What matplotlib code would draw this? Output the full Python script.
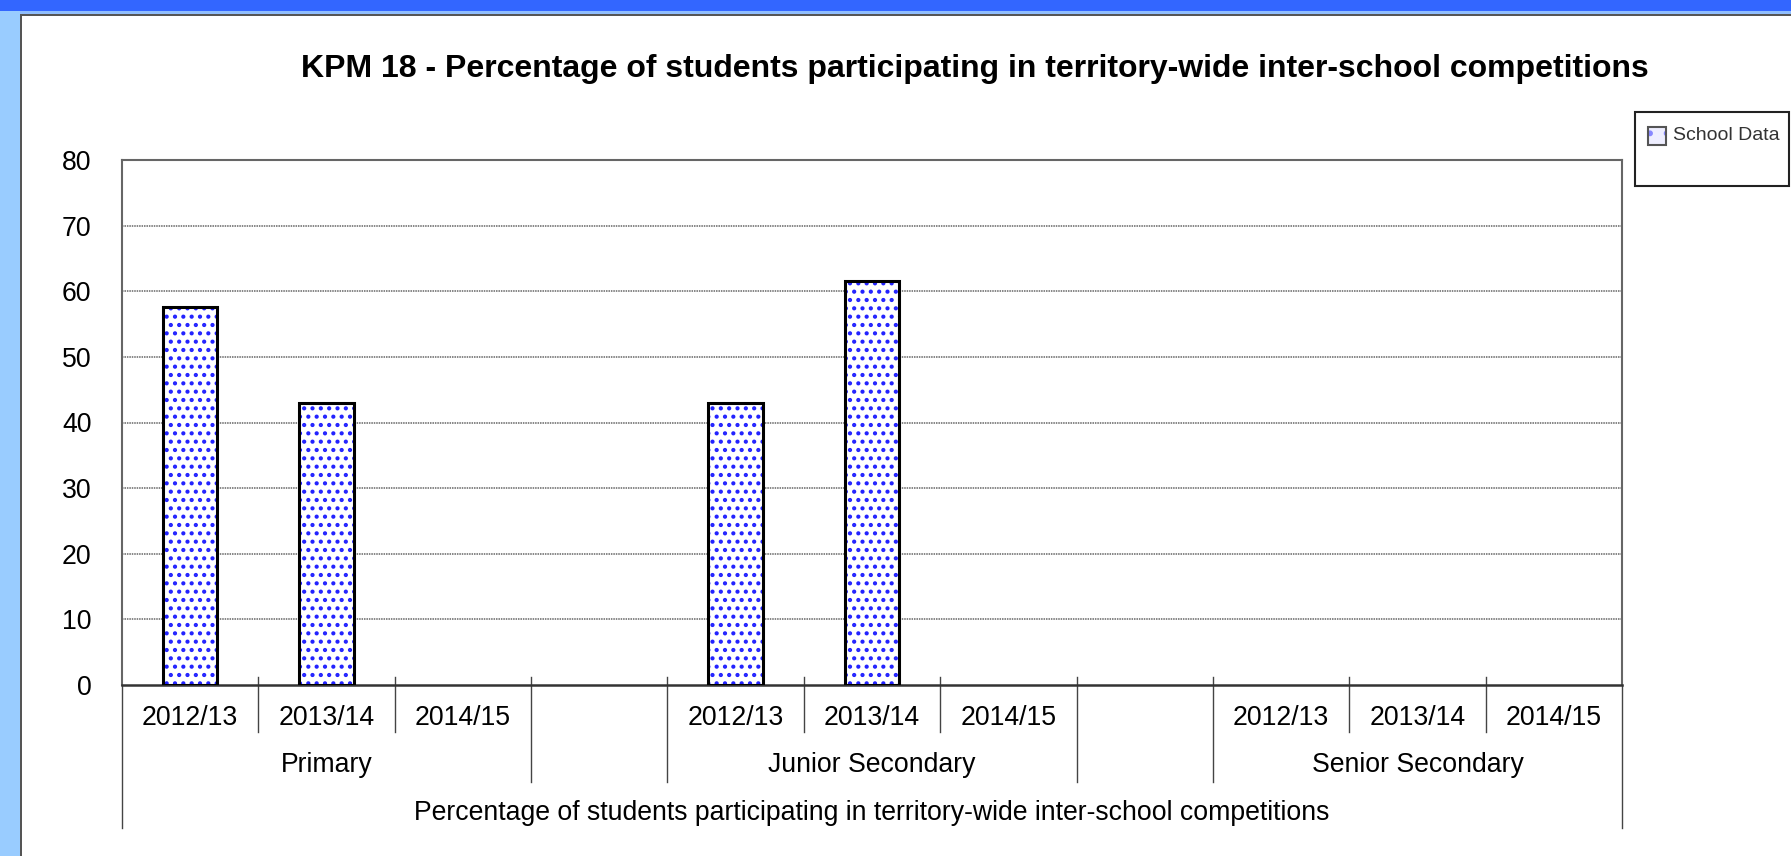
import numpy as np
import matplotlib
matplotlib.use("Agg")
import matplotlib.pyplot as plt
from matplotlib.patches import Rectangle

plt.rcParams['font.family'] = ['Liberation Sans', 'DejaVu Sans']
plt.rcParams['hatch.linewidth'] = 1.8

# ---------------- data ----------------
groups = ["Primary", "", "Junior Secondary", "", "Senior Secondary"]
years = ["2012/13", "2013/14", "2014/15"]
primary = [57.6, 42.9, np.nan]
junior = [43.0, 61.5, np.nan]
senior = [np.nan, np.nan, np.nan]
yticks = [0, 10, 20, 30, 40, 50, 60, 70, 80]
title = "KPM 18 - Percentage of students participating in territory-wide inter-school competitions"
axis_title = "Percentage of students participating in territory-wide inter-school competitions"
legend_label = "School Data"

W, H = 1791, 856
fig = plt.figure(figsize=(W / 100, H / 100), dpi=100)
fig.patch.set_facecolor('white')

def px(x0, y0, x1, y1):
    return (x0 / W, 1 - y1 / H), (x1 - x0) / W, (y1 - y0) / H

def frect(x0, y0, x1, y1, **kw):
    xy, w, h = px(x0, y0, x1, y1)
    fig.add_artist(Rectangle(xy, w, h, transform=fig.transFigure, **kw))

# slide background frame
frect(0, 0, W, 11, facecolor='#3366ff', edgecolor='none')
frect(0, 11, W, 15, facecolor='#8fbdfd', edgecolor='none')
frect(0, 11, 20, H, facecolor='#99ccff', edgecolor='none')
frect(20, 14, 22, H, facecolor='#555555', edgecolor='none')
frect(20, 14, W, 16, facecolor='#555555', edgecolor='none')

# ---------------- axes ----------------
L, R, T, B = 122, 1622, 160, 685
ax = fig.add_axes([L / W, 1 - B / H, (R - L) / W, (B - T) / H])
ax.set_facecolor('white')

series = [primary, junior, senior]
xs, vals = [], []
for gi, s in enumerate(series):
    for yi, v in enumerate(s):
        xs.append(gi * 4 + yi)
        vals.append(v)
xs = np.array(xs, dtype=float)
vals = np.array(vals, dtype=float)

ax.bar(xs, vals, width=0.40, color='white', hatch='..', edgecolor='#2222ff',
       linewidth=0, zorder=2)
ax.bar(xs, vals, width=0.40, fill=False, edgecolor='black', linewidth=2.2, zorder=3)

FS = 19.2
ax.set_xlim(-0.5, 10.5)
ax.set_ylim(0, 80)
ax.set_yticks(yticks)
ax.set_yticklabels([str(t) for t in yticks], fontsize=FS)
ax.tick_params(axis='y', length=0, pad=22)
ax.tick_params(axis='x', length=0, labelbottom=False)
ax.set_xticks([])
for t in yticks[1:-1]:
    ax.axhline(t, color='#666666', linewidth=1.1, linestyle=(0, (1, 0.6)), zorder=1)
for sp in ['left', 'top', 'right']:
    ax.spines[sp].set_color('#666666')
    ax.spines[sp].set_linewidth(1.5)
ax.spines['bottom'].set_color('#333333')
ax.spines['bottom'].set_linewidth(1.8)

# ---------------- multi-level category axis ----------------
xt = ax.get_xaxis_transform()
def yf(pxy):
    return (B - pxy) / (B - T)

n = 11
for k in range(n - 1):
    b = k + 0.5
    if k in (2, 3, 6, 7):
        y_end = 782
    else:
        y_end = 732
    ax.plot([b, b], [yf(677), yf(y_end)], transform=xt, color='#444444',
            linewidth=1.0, clip_on=False)
for b in (-0.5, 10.5):
    ax.plot([b, b], [yf(685), yf(828)], transform=xt, color='#444444',
            linewidth=1.0, clip_on=False)

for gi, g in enumerate(groups):
    if gi % 2 == 0:
        for yi, yl in enumerate(years):
            ax.text(gi * 2 + yi, yf(718), yl, transform=xt, ha='center', va='center',
                    fontsize=FS)
        ax.text(gi * 2 + 1, yf(765), g, transform=xt, ha='center', va='center',
                fontsize=FS)
ax.text(5, yf(813), axis_title, transform=xt, ha='center', va='center', fontsize=FS)

fig.text(975 / W, 1 - 69.5 / H, title, ha='center', va='center', fontsize=23,
         fontweight='bold')

# ---------------- legend ----------------
frect(1635, 112, 1789, 186, facecolor='white', edgecolor='#222222', linewidth=1.5)
frect(1648, 127, 1666, 145, facecolor='#eeeeff', edgecolor='#8888ff', linewidth=0,
      hatch='.')
frect(1648, 127, 1666, 145, fill=False, edgecolor='#555555', linewidth=1.5)
fig.text(1673 / W, 1 - 136 / H, legend_label, ha='left', va='center', fontsize=14,
         color='#333333')

fig.savefig('out.png', dpi=100)
